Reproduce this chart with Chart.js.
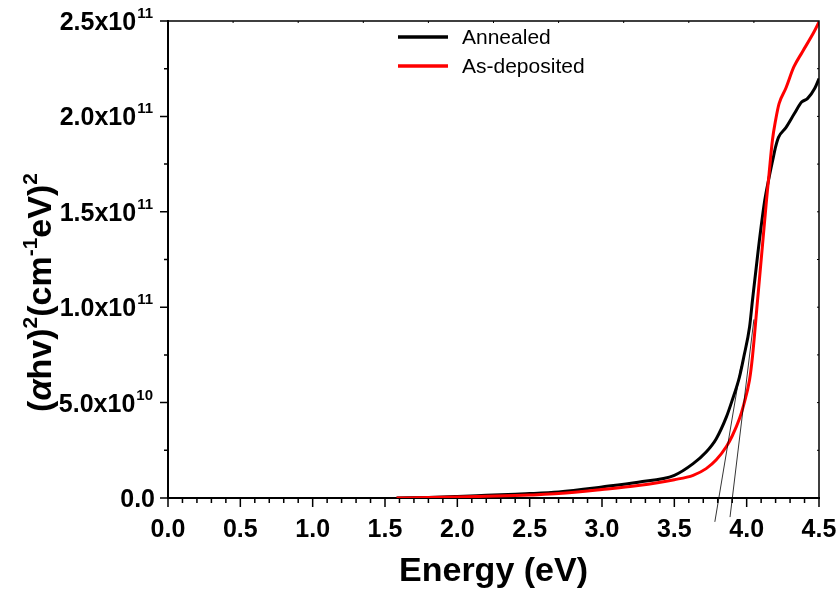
<!DOCTYPE html>
<html>
<head>
<meta charset="utf-8">
<script src="https://cdn.jsdelivr.net/npm/chart.js@4.4.0/dist/chart.umd.min.js"></script>
<style>
  body { margin: 0; background: #fff; }
  #wrap { width: 838px; height: 594px; }
</style>
</head>
<body>
<div id="wrap"><canvas id="gapChart" width="838" height="594"></canvas></div>
<script>
// values (energy in eV, (ahv)^2 in cm^-2 eV^2)
const annealedEnergy = [1.58, 1.8, 2.0, 2.2, 2.4, 2.5, 2.7, 3.0, 3.25, 3.5, 3.63, 3.72, 3.79, 3.86, 3.9, 3.95, 3.98, 4.02, 4.04, 4.08, 4.125, 4.155, 4.18, 4.2, 4.22, 4.27, 4.33, 4.38, 4.42, 4.47, 4.5];
const annealedValues = [0.0, 0.3e9, 0.8e9, 1.4e9, 2.0e9, 2.3e9, 3.2e9, 5.8e9, 8.3e9, 1.19e10, 1.8e10, 2.41e10, 3.11e10, 4.25e10, 5.12e10, 6.34e10, 7.39e10, 8.96e10, 1.035e11, 1.3e11, 1.56e11, 1.68e11, 1.77e11, 1.84e11, 1.89e11, 1.94e11, 2.015e11, 2.075e11, 2.093e11, 2.146e11, 2.198e11];

const depositedEnergy = [1.58, 1.8, 2.0, 2.2, 2.4, 2.5, 2.7, 3.0, 3.25, 3.5, 3.63, 3.72, 3.79, 3.86, 3.9, 3.95, 3.98, 4.02, 4.04, 4.075, 4.11, 4.137, 4.155, 4.178, 4.2, 4.224, 4.27, 4.326, 4.385, 4.465, 4.5];
const depositedValues = [0.0, 0.2e9, 0.5e9, 0.9e9, 1.3e9, 1.6e9, 2.3e9, 4.4e9, 6.5e9, 9.6e9, 1.19e10, 1.54e10, 2.0e10, 2.7e10, 3.25e10, 4.15e10, 4.9e10, 6.2e10, 7.4e10, 1.035e11, 1.33e11, 1.56e11, 1.7e11, 1.875e11, 1.98e11, 2.067e11, 2.146e11, 2.259e11, 2.338e11, 2.442e11, 2.495e11];

// linear fits used for the band gap extrapolation
const fitAnnealedEnergy = [3.78, 3.96];
const fitAnnealedValues = [-1.25e10, 6.9e10];
const fitDepositedEnergy = [3.885, 4.05];
const fitDepositedValues = [-1.0e10, 9.36e10];

const seriesNames = ['Annealed', 'As-deposited'];
const yTickValues = [0, 5e10, 1e11, 1.5e11, 2e11, 2.5e11];
const yTickMantissa = ['0.0', '5.0', '1.0', '1.5', '2.0', '2.5'];
const yTickExponent = ['', '10', '11', '11', '11', '11'];

function toPoints(xs, ys) {
    return xs.map((x, i) => ({ x: x, y: ys[i] }));
}

const FONT = "'Liberation Sans', Arial, sans-serif";

const framePlugin = {
    id: 'frame',
    afterDraw(chart) {
        const ctx = chart.ctx;
        const area = chart.chartArea;
        const xs = chart.scales.x;
        const ys = chart.scales.y;
        ctx.save();
        ctx.strokeStyle = '#000';

        // top and right border
        ctx.lineWidth = 1.5;
        ctx.beginPath();
        ctx.moveTo(area.left, area.top);
        ctx.lineTo(area.right, area.top);
        ctx.lineTo(area.right, area.bottom);
        ctx.stroke();

        // small ticks on top / right edges
        ctx.lineWidth = 1;
        ctx.beginPath();
        for (let i = 1; i < 10; i++) {
            const px = area.left + (area.right - area.left) * i / 10;
            ctx.moveTo(px, area.top);
            ctx.lineTo(px, area.top + 2);
            const py = area.top + (area.bottom - area.top) * i / 10;
            ctx.moveTo(area.right, py);
            ctx.lineTo(area.right - 2, py);
        }
        ctx.stroke();

        // x ticks, major every 0.5 and minor every 0.1
        ctx.lineWidth = 1.5;
        ctx.beginPath();
        for (let k = 0; k <= 45; k++) {
            const px = xs.getPixelForValue(k / 10);
            const len = (k % 5 === 0) ? 9 : 5;
            ctx.moveTo(px, area.bottom);
            ctx.lineTo(px, area.bottom + len);
        }
        // y ticks, major every 5e10 and minor between
        for (let k = 0; k <= 10; k++) {
            const py = ys.getPixelForValue(k * 2.5e10);
            const len = (k % 2 === 0) ? 8 : 4;
            ctx.moveTo(area.left, py);
            ctx.lineTo(area.left - len, py);
        }
        ctx.stroke();

        // y tick labels with exponents
        ctx.fillStyle = '#000';
        ctx.textBaseline = 'alphabetic';
        yTickValues.forEach((v, i) => {
            const py = ys.getPixelForValue(v);
            const right = area.left - 15;
            if (yTickExponent[i]) {
                ctx.font = 'bold 15px ' + FONT;
                ctx.textAlign = 'right';
                ctx.fillText(yTickExponent[i], right, py - 3);
                const supW = ctx.measureText(yTickExponent[i]).width;
                ctx.font = 'bold 25px ' + FONT;
                ctx.fillText(yTickMantissa[i] + 'x10', right - supW - 1, py + 9);
            } else {
                ctx.font = 'bold 25px ' + FONT;
                ctx.textAlign = 'right';
                ctx.fillText(yTickMantissa[i], right + 2, py + 9);
            }
        });

        // y axis title, rotated
        const parts = [
            { t: '(', f: 'bold 34px ' + FONT, up: 0 },
            { t: '\u03B1', f: 'italic bold 34px ' + FONT, up: 0 },
            { t: 'hv)', f: 'bold 34px ' + FONT, up: 0 },
            { t: '2', f: 'bold 21px ' + FONT, up: 14 },
            { t: '(cm', f: 'bold 34px ' + FONT, up: 0 },
            { t: '-1', f: 'bold 21px ' + FONT, up: 14 },
            { t: 'eV)', f: 'bold 34px ' + FONT, up: 0 },
            { t: '2', f: 'bold 21px ' + FONT, up: 14 }
        ];
        let total = 0;
        parts.forEach(p => { ctx.font = p.f; p.w = ctx.measureText(p.t).width; total += p.w; });
        ctx.save();
        ctx.translate(51, (area.top + area.bottom) / 2 + 33);
        ctx.rotate(-Math.PI / 2);
        ctx.textAlign = 'left';
        let cx = -total / 2;
        parts.forEach(p => {
            ctx.font = p.f;
            ctx.fillText(p.t, cx, -p.up);
            cx += p.w;
        });
        ctx.restore();

        // legend
        const legendColors = [chart.data.datasets[1].borderColor, chart.data.datasets[0].borderColor];
        seriesNames.forEach((name, i) => {
            const ly = area.top + 16 + i * 29;
            ctx.strokeStyle = legendColors[i];
            ctx.lineWidth = 3.5;
            ctx.beginPath();
            ctx.moveTo(area.left + 230, ly);
            ctx.lineTo(area.left + 280, ly);
            ctx.stroke();
            ctx.fillStyle = '#000';
            ctx.font = '21px ' + FONT;
            ctx.textAlign = 'left';
            ctx.textBaseline = 'middle';
            ctx.fillText(name, area.left + 294, ly + 1);
        });
        ctx.restore();
    }
};

new Chart(document.getElementById('gapChart').getContext('2d'), {
    type: 'line',
    data: {
        datasets: [
            {
                label: seriesNames[1],
                data: toPoints(depositedEnergy, depositedValues),
                borderColor: '#ff0000',
                borderWidth: 3,
                pointRadius: 0,
                cubicInterpolationMode: 'monotone',
                order: 1
            },
            {
                label: seriesNames[0],
                data: toPoints(annealedEnergy, annealedValues),
                borderColor: '#000000',
                borderWidth: 3,
                pointRadius: 0,
                cubicInterpolationMode: 'monotone',
                order: 2
            },
            {
                label: 'fit annealed',
                data: toPoints(fitAnnealedEnergy, fitAnnealedValues),
                borderColor: '#000000',
                borderWidth: 0.8,
                pointRadius: 0,
                clip: false,
                order: 0
            },
            {
                label: 'fit as-deposited',
                data: toPoints(fitDepositedEnergy, fitDepositedValues),
                borderColor: '#000000',
                borderWidth: 0.8,
                pointRadius: 0,
                clip: false,
                order: 0
            }
        ]
    },
    options: {
        responsive: false,
        devicePixelRatio: 1,
        animation: false,
        layout: { padding: { top: 21, right: 19, left: 0, bottom: 0 } },
        plugins: {
            legend: { display: false },
            tooltip: { enabled: false }
        },
        scales: {
            x: {
                type: 'linear',
                min: 0,
                max: 4.5,
                grid: { display: false },
                border: { display: true, color: '#000', width: 2 },
                ticks: {
                    stepSize: 0.5,
                    autoSkip: false,
                    maxRotation: 0,
                    padding: 9,
                    color: '#000',
                    font: { family: FONT, size: 25, weight: 'bold' },
                    callback: v => v.toFixed(1)
                },
                title: {
                    display: true,
                    text: 'Energy (eV)',
                    color: '#000',
                    font: { family: FONT, size: 34, weight: 'bold' },
                    padding: { top: 0, bottom: 2 }
                },
                afterFit: s => {
                    s.height = 96;
                    s.paddingLeft = 0;
                    s.paddingRight = 0;
                }
            },
            y: {
                type: 'linear',
                min: 0,
                max: 2.5e11,
                grid: { display: false },
                border: { display: true, color: '#000', width: 2 },
                ticks: { display: false },
                afterFit: s => {
                    s.width = 168;
                    s.paddingTop = 0;
                    s.paddingBottom = 0;
                }
            }
        }
    },
    plugins: [framePlugin]
});
</script>
</body>
</html>
